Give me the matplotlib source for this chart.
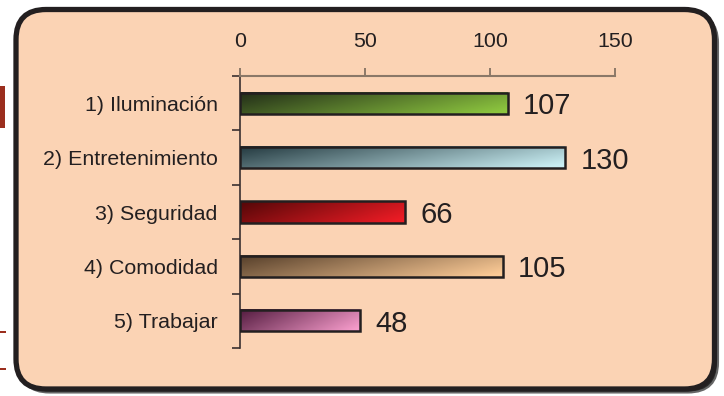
import numpy as np
import matplotlib.pyplot as plt
from matplotlib.patches import FancyBboxPatch, Rectangle
from matplotlib.colors import LinearSegmentedColormap
from matplotlib.transforms import IdentityTransform

categories = ["1) Iluminación", "2) Entretenimiento", "3) Seguridad",
              "4) Comodidad", "5) Trabajar"]
values = [107, 130, 66, 105, 48]
dark_ends = ["#26331a", "#2b4147", "#5a0809", "#5d452f", "#5a2145"]
light_ends = ["#8dc63f", "#c9eef3", "#ee1c25", "#fbca96", "#f59bca"]
x_ticks = [0, 50, 100, 150]

plt.rcParams["font.family"] = ["Liberation Sans", "DejaVu Sans"]

W, H = 724, 396
fig = plt.figure(figsize=(W / 100, H / 100), dpi=100)
fig.patch.set_facecolor("white")

# panel with drop shadow, drawn in pixel coordinates
px = IdentityTransform()
shadow = FancyBboxPatch((19.5, 3.5), 698.5, 379.5, boxstyle="round,pad=0,rounding_size=30",
                        transform=px, facecolor="#2a2a2a", edgecolor="#666666",
                        linewidth=1.5, zorder=0)
panel = FancyBboxPatch((16, 7), 698.5, 379.5, boxstyle="round,pad=0,rounding_size=30",
                       transform=px, facecolor="#fbd3b4", edgecolor="#231f20",
                       linewidth=3.8, zorder=1)
fig.add_artist(shadow)
fig.add_artist(panel)

# small marks on the left margin
fig.add_artist(Rectangle((0, H - 128), 5, 42, transform=px, facecolor="#9b2e1e",
                         edgecolor="none", zorder=1))
for yy in (332, 369):
    fig.add_artist(Rectangle((0, H - yy - 1), 6, 2, transform=px,
                             facecolor="#9b2e1e", edgecolor="none", zorder=1))

ax = fig.add_axes([240 / W, 1 - 348 / H, 375 / W, 272 / H], zorder=2)
ax.set_facecolor("none")

bar_h = 0.39
gy = np.linspace(0, 1, 40)[:, None]
gx = np.linspace(0, 1, 200)[None, :]
grad = np.clip(0.8 * gx + 0.3 * gy - 0.05, 0, 1)

for i, (v, c0, c1) in enumerate(zip(values, dark_ends, light_ends)):
    cmap = LinearSegmentedColormap.from_list(f"g{i}", [c0, c1])
    ax.imshow(grad, cmap=cmap, aspect="auto", interpolation="bilinear",
              extent=[0, v, i + bar_h / 2, i - bar_h / 2], zorder=2)
    ax.add_patch(Rectangle((0, i - bar_h / 2), v, bar_h, facecolor="none",
                           edgecolor="#231f20", linewidth=1.8, zorder=3))
    ax.annotate(str(v), (v, i), xytext=(11, 0), textcoords="offset points",
                ha="left", va="center_baseline", fontsize=21, color="#231f20")

ax.set_xlim(0, 150)
ax.set_ylim(4.5, -0.5)

ax.xaxis.tick_top()
ax.set_xticks(x_ticks)
ax.tick_params(axis="x", direction="out", length=6, width=1.2, color="#7a6a5c",
               pad=12, labelsize=15.4, labelcolor="#231f20")

ax.set_yticks(range(len(categories)))
ax.set_yticklabels(categories)
ax.set_yticks(np.arange(-0.5, 5, 1), minor=True)
ax.tick_params(axis="y", which="major", length=0, pad=16, labelsize=15.4,
               labelcolor="#231f20")
ax.tick_params(axis="y", which="minor", length=6, width=1.2, color="#3a3030")

for side in ("right", "bottom"):
    ax.spines[side].set_visible(False)
ax.spines["top"].set_color("#8a7868")
ax.spines["top"].set_linewidth(1.5)
ax.spines["left"].set_color("#3a3030")
ax.spines["left"].set_linewidth(1.2)

fig.savefig("out.png", dpi=100)
